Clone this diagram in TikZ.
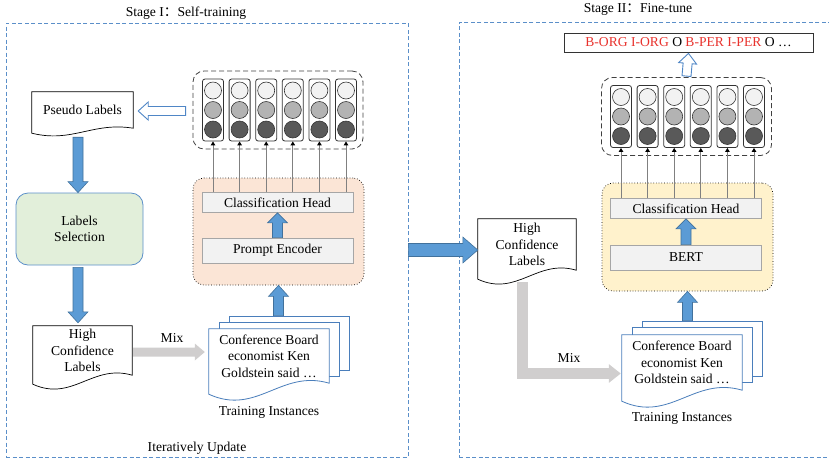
\documentclass[tikz,border=0pt]{standalone}
\usepackage{fontspec}
\setmainfont{Liberation Serif}
\newfontfamily\cjkfont{Noto Sans CJK SC}
\usepackage{xcolor}
\usetikzlibrary{arrows.meta, positioning, calc}

\definecolor{framec}{HTML}{5B8FC9}
\definecolor{arrowblue}{HTML}{5B9BD5}
\definecolor{arrowedge}{HTML}{41719C}
\definecolor{hollowc}{HTML}{4F86C6}
\definecolor{mixgray}{HTML}{D0CECE}
\definecolor{orangebg}{HTML}{FBE5D6}
\definecolor{yellowbg}{HTML}{FFF2CC}
\definecolor{greenbg}{HTML}{E2EFDA}
\definecolor{headfill}{HTML}{F2F2F2}
\definecolor{headdraw}{HTML}{A6A6A6}
\definecolor{pagec}{HTML}{4A7EBB}
\definecolor{tagred}{HTML}{E8322D}
\definecolor{unitlight}{HTML}{F2F2F2}
\definecolor{unitmid}{HTML}{B3B3B3}
\definecolor{unitdark}{HTML}{595959}

\newcommand{\figfont}{\fontsize{13.6}{16.5}\selectfont}

\pgfdeclarelayer{paper}
\pgfsetlayers{paper,main}

% block arrow: [style]{from}{to}{half shaft}{half head}{head length}
\newcommand{\blockarrow}[6][bluearrow]{%
  \coordinate (ba-s) at #2;
  \coordinate (ba-e) at #3;
  \coordinate (ba-h) at ($(ba-e)!#6pt!(ba-s)$);
  \path[#1] ($(ba-s)!#4pt!90:(ba-e)$) -- ($(ba-h)!#4pt!-90:(ba-s)$) -- ($(ba-h)!#5pt!-90:(ba-s)$)
    -- (ba-e) -- ($(ba-h)!#5pt!90:(ba-s)$) -- ($(ba-h)!#4pt!90:(ba-s)$) -- ($(ba-s)!#4pt!-90:(ba-e)$) -- cycle;}

% document outline with wavy bottom: [style]{node}{wave depth}
\newcommand{\docshape}[3][docline]{%
  \path[#1] (#2.north west) -- (#2.north east) -- (#2.south east)
    .. controls ($(#2.south west)!0.6!(#2.south east)+(0,-1.3*#3)$) and ($(#2.south west)!0.4!(#2.south east)+(0,3*#3)$)
    .. ($(#2.south west)+(0,#3)$) -- cycle;}

\tikzset{
    stageframe/.style={rectangle, draw=framec, line width=0.8pt, dash pattern=on 4pt off 2.5pt},
    docbox/.style={rectangle, align=center, inner sep=0pt},
    docline/.style={draw=black, fill=white, line width=0.7pt},
    pageline/.style={draw=pagec, fill=white, line width=0.8pt},
    page/.style={rectangle, pageline, minimum width=120pt, minimum height=54pt},
    modelbox/.style={rectangle, rounded corners=11pt, draw, dotted, line width=0.7pt, minimum width=171pt, minimum height=107pt},
    layer/.style={rectangle, draw=headdraw, fill=headfill, line width=0.8pt, minimum width=151pt, minimum height=20pt, inner sep=0pt},
    selbox/.style={rectangle, rounded corners=12pt, draw=framec, fill=greenbg, line width=0.8pt, minimum width=127pt, minimum height=72pt, align=center},
    matbox/.style={rectangle, rounded corners=11pt, draw=black!75, dash pattern=on 5pt off 3pt, line width=0.8pt, minimum width=170pt, minimum height=78pt},
    featcol/.style={rectangle, rounded corners=2.5pt, draw=black!80, line width=0.8pt, minimum width=21pt, minimum height=62pt, inner sep=0pt},
    unit/.style={circle, draw=black!80, line width=0.6pt, minimum size=17pt, inner sep=0pt},
    feat/.style={-{Triangle[length=4pt, width=4.5pt, color=black]}, draw=gray, line width=1pt},
    bluearrow/.style={fill=arrowblue, draw=arrowedge, line width=0.6pt},
    hollowarrow/.style={fill=white, draw=hollowc, line width=0.9pt},
    mixarrow/.style={fill=mixgray},
    mixline/.style={draw=mixgray, line width=11pt, line join=miter, -{Triangle[length=12pt, width=18pt]}},
    label/.style={inner sep=1pt},
}

\begin{document}
\begin{tikzpicture}[x=1pt, y=-1pt, font=\figfont]
    \useasboundingbox (0,0) rectangle (829,459);

    % Frames
    \node[stageframe, minimum width=402pt, minimum height=434pt] (stage1) at (207,240) {};
    \node[stageframe, minimum width=385pt, minimum height=435pt, anchor=north west] (stage2) at (459,22) {};
    \node[label] (title1) at (186,13) {Stage I{\cjkfont ：}Self-training};
    \node[label] (title2) at (638,9) {Stage II{\cjkfont ：}Fine-tune};
    \node[label] (iterate) at (197,448) {Iteratively Update};

    % Stage I: prompt model
    \node[modelbox, fill=orangebg] (lmodel) at (278.5,231.5) {};
    \node[layer] (lhead) at (277.5,202.5) {Classification Head};
    \node[layer, minimum height=25pt] (lenc) at (277.5,250.5) {Prompt Encoder};

    % Stage II: BERT model
    \node[modelbox, fill=yellowbg, minimum height=108pt] (rmodel) at (687.5,237) {};
    \node[layer] (rhead) at (686,208.5) {Classification Head};
    \node[layer, minimum height=25pt] (bert) at (686,257.5) {BERT};

    % Label distributions
    \node[matbox] (lmat) at (278,110) {};
    \node[matbox] (rmat) at (686.5,116.5) {};
    \foreach \s/\cx/\cy/\hd in {l/279.5/110/lhead, r/687.5/116.5/rhead} {
        \foreach \i in {1,...,6} {
            \node[featcol] (\s col\i) at ({\cx+(\i-3.5)*26.6},\cy) {};
            \node[unit, fill=unitlight] (\s col\i-a) at ($(\s col\i)+(0,-19.5)$) {};
            \node[unit, fill=unitmid] (\s col\i-b) at (\s col\i) {};
            \node[unit, fill=unitdark] (\s col\i-c) at ($(\s col\i)+(0,19.5)$) {};
            \draw[feat] (\hd.north -| \s col\i.south) -- (\s col\i.south);
        }
    }
    \node[rectangle, draw=black!80, line width=0.8pt, minimum width=249pt, minimum height=19pt, inner sep=0pt] (tags) at (688.5,42.5)
        {\textcolor{tagred}{B-ORG I-ORG} O \textcolor{tagred}{B-PER I-PER} O …};

    % Documents
    \node[docbox, minimum width=101pt, minimum height=36pt] (pseudo) at (82.5,110) {Pseudo Labels};
    \node[selbox] (select) at (79.5,229) {Labels\\Selection};
    \node[docbox, minimum width=99pt, minimum height=49pt] (hcl1) at (82.5,350.5) {High\\Confidence\\Labels};
    \node[docbox, minimum width=98pt, minimum height=51pt] (hcl2) at (527,244.5) {High\\Confidence\\Labels};
    \node[docbox, minimum width=120pt, minimum height=54pt] (ltrain1) at (269,356) {Conference Board\\economist Ken\\Goldstein said …};
    \node[docbox, minimum width=120pt, minimum height=55pt] (rtrain1) at (682,362.5) {Conference Board\\economist Ken\\Goldstein said …};
    \node[label, below=22pt of ltrain1] (linst) {Training Instances};
    \node[label, below=21pt of rtrain1] (rinst) {Training Instances};
    \node[label] (mix1) at (172,338) {Mix};
    \node[label] (mix2) at (569,358) {Mix};

    \begin{pgfonlayer}{paper}
        \docshape{pseudo}{5}
        \docshape{hcl1}{9}
        \docshape{hcl2}{9}
        \node[page] (ltrain3) at ($(ltrain1)+(20,-13)$) {};
        \node[page] (ltrain2) at ($(ltrain1)+(10,-7)$) {};
        \docshape[pageline]{ltrain1}{11}
        \node[page, minimum height=55pt] (rtrain3) at ($(rtrain1)+(20,-14)$) {};
        \node[page, minimum height=55pt] (rtrain2) at ($(rtrain1)+(10,-7.5)$) {};
        \docshape[pageline]{rtrain1}{11}
    \end{pgfonlayer}

    % Arrows, stage I
    \blockarrow[hollowarrow]{($(lmat.west)+(-7,1)$)}{($(pseudo.east)+(5,1)$)}{4.5}{9}{10}
    \blockarrow{($(select.north |- pseudo.south)+(-1.5,9)$)}{($(select.north)+(-1.5,0)$)}{5}{10}{11}
    \blockarrow{($(select.south)+(-1.5,2)$)}{($(hcl1.north -| select.south)+(-1.5,-3)$)}{5}{10}{11}
    \blockarrow[mixarrow]{($(hcl1.east)+(1,1.5)$)}{($(ltrain1.west |- hcl1.east)+(-4,1.5)$)}{4.5}{8.5}{10}
    \blockarrow{(lmodel.south |- ltrain3.north)}{(lmodel.south)}{5}{10}{11}
    \blockarrow{(lenc.north)}{(lhead.south)}{5}{10}{10}

    % Arrows, stage II
    \blockarrow{($(stage1.east |- hcl2.west)+(0,5.5)$)}{($(hcl2.west)+(0,5.5)$)}{6.5}{13}{15}
    \draw[mixline] ($(hcl2.south)+(-4.5,12)$) |- ($(rtrain1.west)+(-1,11)$);
    \blockarrow{(rmodel.south |- rtrain3.north)}{(rmodel.south)}{5}{10}{11}
    \blockarrow{(bert.north)}{(rhead.south)}{5}{10}{10}
    \blockarrow[hollowarrow]{($(rmat.north)+(0,-1)$)}{($(tags.south)+(0,1)$)}{4.5}{9}{10}
\end{tikzpicture}
\end{document}
